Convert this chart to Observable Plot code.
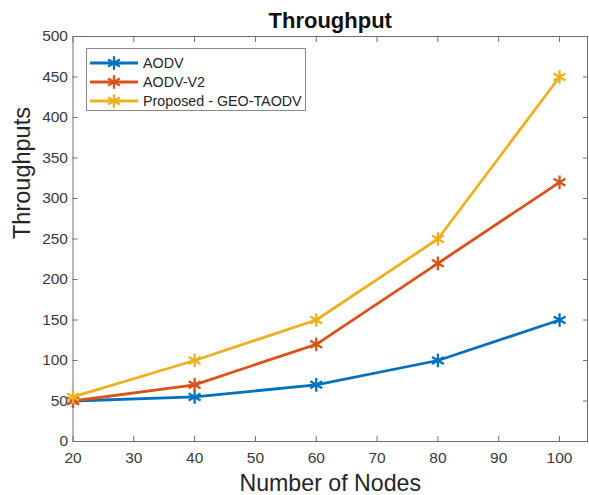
<!DOCTYPE html>
<html><head><meta charset="utf-8">
<script src="https://cdn.jsdelivr.net/npm/d3@7"></script>
<script src="https://cdn.jsdelivr.net/npm/@observablehq/plot@0.6"></script>
<style>
body{margin:0;background:#fff;font-family:"Liberation Sans",Arial,sans-serif;}
#wrap{position:relative;width:589px;height:495px;}
#legend{position:absolute;left:86px;top:48px;width:220px;height:63px;border:1px solid #8a8a8a;background:#fff;box-sizing:border-box;padding-top:4px;font-size:14.3px;color:#262626;}
.row{height:19px;display:flex;align-items:center;}
.row svg{margin-left:3px;margin-right:5px;}
</style></head><body>
<div id="wrap"><div id="chart"></div><div id="legend"></div></div>
<script>
const nodes = [20, 40, 60, 80, 100];
const aodv = [50, 55, 70, 100, 150];
const aodvV2 = [50, 70, 120, 220, 320];
const proposed = [55, 100, 150, 250, 450];
const seriesNames = ["AODV", "AODV-V2", "Proposed - GEO-TAODV"];
const seriesColors = ["#0072BD", "#D95319", "#EDB120"];
const xTicks = [20, 30, 40, 50, 60, 70, 80, 90, 100];
const yTicks = [0, 50, 100, 150, 200, 250, 300, 350, 400, 450, 500];
const titleText = "Throughput";
const xLabel = "Number of Nodes";
const yLabel = "Throughputs";

const allSeries = [aodv, aodvV2, proposed];
const data = [];
allSeries.forEach((vals, i) => nodes.forEach((n, j) => data.push({x: n, y: vals[j], s: seriesNames[i]})));

const axisColor = "#6e6e6e";
const tickText = "#3a3a3a";
const seriesMarks = [];
seriesNames.forEach((name) => {
  const sub = data.filter(d => d.s === name);
  seriesMarks.push(Plot.line(sub, {x: "x", y: "y", stroke: "s", strokeWidth: 2.8}));
  seriesMarks.push(Plot.dot(sub, {x: "x", y: "y", stroke: "s", symbol: "asterisk", r: 6.5, strokeWidth: 2.3}));
});

const chart = Plot.plot({
  width: 589, height: 495,
  marginLeft: 72.5, marginRight: 2, marginTop: 36, marginBottom: 54,
  style: {fontFamily: '"Liberation Sans", Arial, sans-serif', background: "white", overflow: "visible"},
  x: {domain: [20, 104.6]},
  y: {domain: [0, 500]},
  color: {domain: seriesNames, range: seriesColors},
  marks: [
    Plot.frame({stroke: axisColor, strokeWidth: 1}),
    Plot.axisX({ticks: xTicks, tickSize: -5, tickPadding: 15, fontSize: 15.5, color: tickText, stroke: axisColor, label: null}),
    Plot.axisX({anchor: "top", ticks: xTicks, tickSize: -5, tickFormat: () => "", stroke: axisColor, label: null}),
    Plot.axisY({ticks: yTicks, tickSize: -5, tickPadding: 10, fontSize: 15.5, color: tickText, stroke: axisColor, label: null}),
    Plot.axisY({anchor: "right", ticks: yTicks, tickSize: -5, tickFormat: () => "", stroke: axisColor, label: null}),
    ...seriesMarks,
    Plot.text([titleText], {frameAnchor: "top", dy: -9, lineAnchor: "bottom", fontSize: 22, fontWeight: "bold", fill: "#111"}),
    Plot.text([xLabel], {frameAnchor: "bottom", dy: 49.5, lineAnchor: "bottom", fontSize: 23.2, fill: "#262626"}),
    Plot.text([yLabel], {frameAnchor: "left", dx: -43, rotate: -90, lineAnchor: "bottom", fontSize: 23.5, fill: "#262626"})
  ]
});
document.getElementById("chart").appendChild(chart);

// Legend
const leg = document.getElementById("legend");
const sym = d3.symbol(d3.symbolAsterisk, 130)();
seriesNames.forEach((name, i) => {
  const row = document.createElement("div");
  row.className = "row";
  row.innerHTML = `<svg width="48" height="16"><line x1="0" x2="48" y1="8" y2="8" stroke="${seriesColors[i]}" stroke-width="2.8"/><path d="${sym}" transform="translate(24,8)" stroke="${seriesColors[i]}" stroke-width="2.3" fill="none"/></svg><span>${name}</span>`;
  leg.appendChild(row);
});
</script>
</body></html>
